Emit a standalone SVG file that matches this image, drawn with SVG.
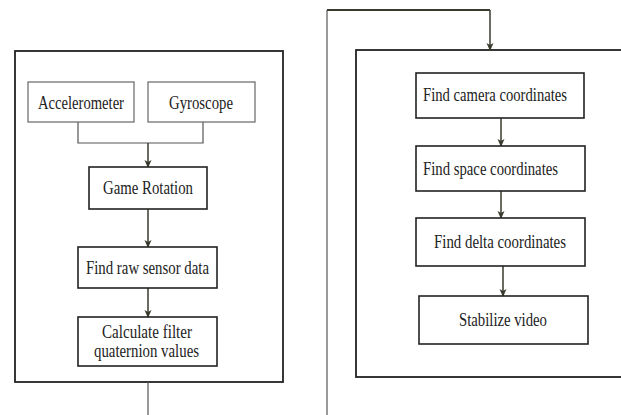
<svg xmlns="http://www.w3.org/2000/svg" width="621" height="415" viewBox="0 0 621 415">
<style>
.box{fill:#fff;stroke:#222;stroke-width:1.6}
.outer{fill:none;stroke:#222;stroke-width:1.8}
.lbox{fill:#fff;stroke:#666;stroke-width:1.2}
.wire{fill:none;stroke:#555;stroke-width:1.2}
.arr{fill:none;stroke:#3a3a2e;stroke-width:1.5;marker-end:url(#ah)}
.top{fill:none;stroke:#3a3a2e;stroke-width:2}
</style>
<defs>
<marker id="ah" markerWidth="8" markerHeight="10" refX="7" refY="4" orient="auto" markerUnits="userSpaceOnUse" viewBox="0 0 8 8">
<path d="M0,0.5 L8,4 L0,7.5 L2,4 Z" fill="#3a3a2e"/>
</marker>
</defs>
<rect width="621" height="415" fill="#fff"/>
<g id="left-container"><rect class="outer" x="15" y="51" width="268" height="331"/></g>
<g id="right-container"><rect class="outer" x="356" y="50" width="266" height="327"/></g>
<g id="connectors">
<path class="wire" d="M78,122 V143 H203 V122"/>
<path class="arr" d="M148,143 V167"/>
<path class="arr" d="M148,209 V247"/>
<path class="arr" d="M148,288 V317"/>
<path class="wire" d="M148,382 V415"/>
<path class="wire" d="M327,415 V10"/>
<path class="top" d="M327,10 H490"/>
<path class="arr" d="M490,10 V50"/>
<path class="arr" d="M501,118 V146"/>
<path class="arr" d="M501,191 V218"/>
<path class="arr" d="M503,266 V296"/>
</g>
<g font-family="Liberation Serif, Times New Roman, serif" font-size="18" fill="#222" lengthAdjust="spacingAndGlyphs">
<g id="accelerometer"><rect class="lbox" x="28" y="82" width="106" height="40"/><text x="38" y="109" textLength="86" lengthAdjust="spacingAndGlyphs">Accelerometer</text></g>
<g id="gyroscope"><rect class="lbox" x="148" y="82" width="107" height="40"/><text x="169" y="109" textLength="64" lengthAdjust="spacingAndGlyphs">Gyroscope</text></g>
<g id="game-rotation"><rect class="box" x="89" y="167" width="118" height="42"/><text x="103" y="194" textLength="90" lengthAdjust="spacingAndGlyphs">Game Rotation</text></g>
<g id="raw-sensor"><rect class="box" x="78" y="247" width="139" height="41"/><text x="86" y="274" textLength="123" lengthAdjust="spacingAndGlyphs">Find raw sensor data</text></g>
<g id="calculate-filter"><rect class="box" x="78" y="317" width="139" height="49"/><text x="102" y="338" textLength="90" lengthAdjust="spacingAndGlyphs">Calculate filter</text><text x="94" y="357" textLength="105" lengthAdjust="spacingAndGlyphs">quaternion values</text></g>
<g id="camera-coords"><rect class="box" x="416" y="73" width="168" height="45"/><text x="423" y="101" textLength="144" lengthAdjust="spacingAndGlyphs">Find camera coordinates</text></g>
<g id="space-coords"><rect class="box" x="416" y="146" width="169" height="45"/><text x="423" y="175" textLength="135" lengthAdjust="spacingAndGlyphs">Find space coordinates</text></g>
<g id="delta-coords"><rect class="box" x="416" y="218" width="169" height="48"/><text x="434" y="248" textLength="132" lengthAdjust="spacingAndGlyphs">Find delta coordinates</text></g>
<g id="stabilize"><rect class="box" x="419" y="296" width="169" height="48"/><text x="459" y="326" textLength="88" lengthAdjust="spacingAndGlyphs">Stabilize video</text></g>
</g>
</svg>
